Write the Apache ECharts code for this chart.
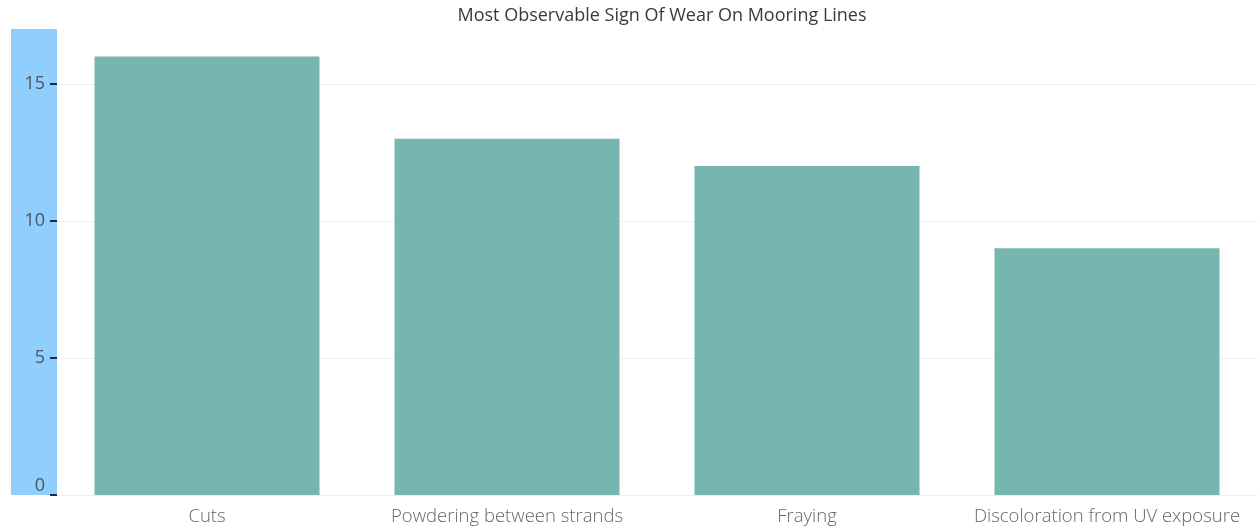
<!DOCTYPE html>
<html>
<head>
<meta charset="utf-8">
<script src="https://cdn.jsdelivr.net/npm/echarts@6/dist/echarts.min.js"></script>
<style>
  html, body { margin: 0; padding: 0; background: #fff; }
  #chart { width: 1257px; height: 531px; }
</style>
</head>
<body>
<div id="chart"></div>
<script>
const title = 'Most Observable Sign Of Wear On Mooring Lines';
const categories = ['Cuts', 'Powdering between strands', 'Fraying', 'Discoloration from UV exposure'];
const counts = [16, 13, 12, 9];

const myChart = echarts.init(document.getElementById('chart'));

const option = {
  animation: false,
  title: {
    text: title,
    left: 657,
    textAlign: 'center',
    top: 2,
    textStyle: {
      fontFamily: 'Open Sans',
      fontSize: 18,
      fontWeight: 'normal',
      color: '#3a3a3a',
    },
  },
  graphic: [{
    type: 'rect',
    left: 11,
    top: 29,
    z: -10,
    shape: { width: 46, height: 466 },
    style: { fill: '#8fcefd' },
  }],
  grid: {
    left: 57,
    right: 0,
    top: 29,
    bottom: 36,
  },
  xAxis: {
    type: 'category',
    data: categories,
    axisLine: { show: true, lineStyle: { color: '#eeeeee', width: 1 } },
    axisTick: { show: false },
    axisLabel: {
      interval: 0,
      hideOverlap: false,
      margin: 12,
      fontFamily: 'Open Sans',
      fontSize: 18.5,
      fontWeight: 300,
      color: '#666',
    },
  },
  yAxis: {
    type: 'value',
    min: 0,
    max: 17,
    interval: 5,
    axisLine: { show: false },
    axisTick: { show: true, length: 7, lineStyle: { color: '#1d2a44', width: 2 } },
    splitLine: { show: true, showMaxLine: false, lineStyle: { color: '#efefef', width: 1 } },
    axisLabel: {
      margin: 12,
      fontFamily: 'Open Sans',
      fontSize: 18,
      color: '#4a5561',
      showMaxLabel: false,
      verticalAlign: 'middle',
      verticalAlignMinLabel: 'bottom',
    },
  },
  series: [{
    type: 'bar',
    data: counts,
    barWidth: '75%',
    itemStyle: { color: '#77b5b0' },
  }],
};

myChart.setOption(option, true);
</script>
</body>
</html>
